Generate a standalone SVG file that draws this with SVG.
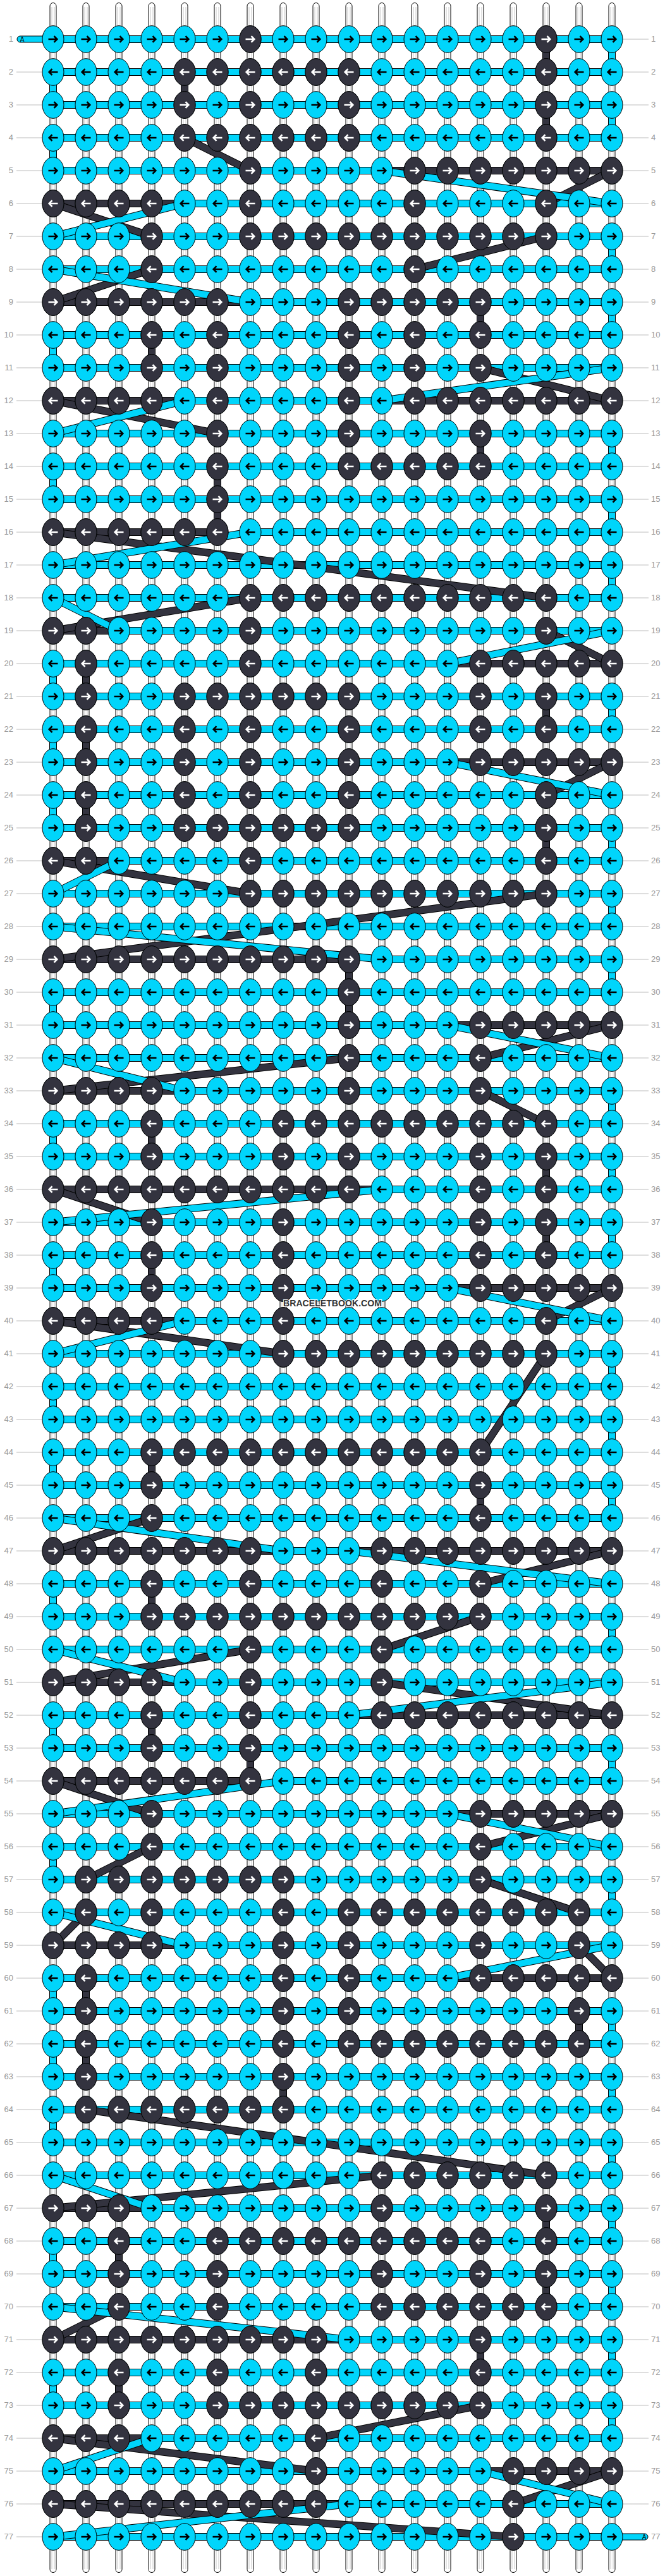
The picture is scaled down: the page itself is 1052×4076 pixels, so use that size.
<svg xmlns="http://www.w3.org/2000/svg" width="1052" height="4076" viewBox="0 0 1052 4076">
<style>
.bg{fill:#fff}
.lbl text{font-family:"Liberation Sans",Arial,sans-serif;font-size:13px;fill:#999}
.st{fill:#fff;stroke:#000;stroke-width:1}
.ol{fill:none;stroke:#000;stroke-width:12;stroke-linecap:butt}
.cl{fill:none;stroke:#00d5fb;stroke-width:10;stroke-linecap:butt}
.dl{fill:none;stroke:#33333f;stroke-width:10;stroke-linecap:butt}
.kc{fill:url(#pc);height:52px;width:936px}
.kd{fill:url(#pd);height:52px}
.s{width:52px}
.pill{fill:#00d5fb;stroke:#000;stroke-width:1}
.pt{font-family:"Liberation Sans",Arial,sans-serif;font-size:10px;fill:#000;text-anchor:middle}
.wm{font-family:"Liberation Sans",Arial,sans-serif;font-size:15px;font-weight:bold;fill:#333;stroke:#fff;stroke-width:2;paint-order:stroke;text-anchor:middle}
</style>
<defs>
<pattern id="pc" patternUnits="userSpaceOnUse" x="58" y="36" width="52" height="104">
<ellipse cx="26" cy="26" rx="17" ry="21.3" fill="#00d5fb" stroke="#000"/>
<path d="M18.5 26H32M27.5 21.2L32.3 26L27.5 30.8" fill="none" stroke="#000" stroke-width="2.6"/>
<ellipse cx="26" cy="78" rx="17" ry="21.3" fill="#00d5fb" stroke="#000"/>
<path d="M33.5 78H20M24.5 73.2L19.7 78L24.5 82.8" fill="none" stroke="#000" stroke-width="2.6"/>
</pattern>
<pattern id="pd" patternUnits="userSpaceOnUse" x="58" y="36" width="52" height="104">
<ellipse cx="26" cy="26" rx="17" ry="21.3" fill="#33333f" stroke="#000"/>
<path d="M18.5 26H32M27.5 21.2L32.3 26L27.5 30.8" fill="none" stroke="#fff" stroke-width="2.6"/>
<ellipse cx="26" cy="78" rx="17" ry="21.3" fill="#33333f" stroke="#000"/>
<path d="M33.5 78H20M24.5 73.2L19.7 78L24.5 82.8" fill="none" stroke="#fff" stroke-width="2.6"/>
</pattern>
<pattern id="ps" patternUnits="userSpaceOnUse" x="58" y="0" width="52" height="10">
<rect x="23.5" width="1" height="10" fill="#c8c8c8"/><rect x="27.5" width="1" height="10" fill="#c8c8c8"/>
</pattern>
<pattern id="pl" patternUnits="userSpaceOnUse" x="0" y="36" width="52" height="52">
<rect y="25.5" width="52" height="1" fill="#bdbdbd"/>
</pattern>
<path id="hbc" d="M84 62H968M84 114H968M84 166H968M84 218H968M84 270H604M292 322H968M84 374H968M84 426H968M396 478H968M84 530H968M84 582H968M292 634H604M84 686H968M84 738H968M84 790H968M396 842H968M84 894H968M84 946H968M188 998H968M84 1050H708M84 1102H968M84 1154H968M84 1206H708M84 1258H968M84 1310H968M188 1362H968M84 1414H968M84 1466H968M604 1518H968M84 1570H968M84 1622H708M84 1674H968M292 1726H968M84 1778H968M84 1830H968M604 1882H968M84 1934H968M84 1986H968M84 2038H708M292 2090H968M84 2142H968M84 2194H968M84 2246H968M84 2298H968M84 2350H968M84 2402H968M448 2454H552M84 2506H968M84 2558H968M84 2610H968M292 2662H968M84 2714H552M84 2766H968M448 2818H968M84 2870H708M84 2922H968M84 2974H968M84 3026H968M292 3078H968M84 3130H708M84 3182H968M84 3234H968M84 3286H968M84 3338H968M84 3390H968M84 3442H968M240 3494H968M84 3546H968M84 3598H968M84 3650H968M552 3702H968M84 3754H968M84 3806H968M240 3858H968M84 3910H760M552 3962H968M84 4014H968"/>
<path id="hbd" d="M604 270H968M84 322H292M84 478H396M84 634H292M604 634H968M84 842H344M84 998H188M708 1050H968M708 1206H968M84 1362H188M84 1518H552M708 1622H968M84 1726H292M84 1882H604M708 2038H968M84 2090H292M84 2454H448M552 2454H968M84 2662H292M552 2714H968M84 2818H396M708 2870H968M84 3078H292M708 3130H968M84 3494H240M84 3702H552M84 3858H240M760 3910H968M84 3962H552"/>
<path id="cnc" d="M968 62V114M84 114V166M968 166V218M84 218V270M604 270L968 322M292 322L84 374M968 374V426M84 426L396 478M968 478V530M84 530V582M968 582L604 634M292 634L84 686M968 686V738M84 738V790M968 790V842M396 842L84 894M968 894V946M84 946L188 998M968 998L708 1050M84 1050V1102M968 1102V1154M84 1154V1206M708 1206L968 1258M84 1258V1310M968 1310V1362M188 1362L84 1414M968 1414V1466M84 1466L604 1518M968 1518V1570M84 1570V1622M708 1622L968 1674M84 1674L292 1726M968 1726V1778M84 1778V1830M968 1830V1882M604 1882L84 1934M968 1934V1986M84 1986V2038M708 2038L968 2090M292 2090L84 2142M968 2142V2194M84 2194V2246M968 2246V2298M84 2298V2350M968 2350V2402M84 2402L448 2454M552 2454L968 2506M84 2506V2558M968 2558V2610M84 2610L292 2662M968 2662L552 2714M84 2714V2766M968 2766V2818M448 2818L84 2870M708 2870L968 2922M84 2922V2974M968 2974V3026M84 3026L292 3078M968 3078L708 3130M84 3130V3182M968 3182V3234M84 3234V3286M968 3286V3338M84 3338V3390M968 3390V3442M84 3442L240 3494M968 3494V3546M84 3546V3598M968 3598V3650M84 3650L552 3702M968 3702V3754M84 3754V3806M968 3806V3858M240 3858L84 3910M760 3910L968 3962M552 3962L84 4014"/>
<path id="cnd" d="M864 62V114M292 114V166M864 166V218M292 218L396 270M968 270L864 322M84 322L240 374M864 374L656 426M240 426L84 478M760 478V530M240 530V582M760 582L968 634M84 634L344 686M760 686V738M344 738V842M84 842L864 946M396 946L84 998M864 998L968 1050M136 1050V1102M864 1102V1154M136 1154V1206M968 1206L864 1258M136 1258V1310M864 1310V1362M84 1362L396 1414M864 1414L84 1518M552 1518V1622M968 1622L760 1674M552 1674L84 1726M760 1726L864 1778M240 1778V1830M864 1830V1882M84 1882L240 1934M864 1934V1986M240 1986V2038M968 2038L864 2090M84 2090L448 2142M864 2142L760 2298M240 2298V2350M760 2350V2402M240 2402L84 2454M968 2454L760 2506M240 2506V2558M760 2558L604 2610M396 2610L84 2662M604 2662L968 2714M240 2714V2766M396 2766V2818M84 2818L240 2870M968 2870L760 2922M240 2922L136 2974M760 2974L916 3026M136 3026L84 3078M916 3078L968 3130M136 3130V3182M916 3182V3234M136 3234V3286M448 3286V3338M136 3338L864 3442M604 3442L84 3494M864 3494V3546M188 3546V3598M864 3598V3650M188 3650L84 3702M760 3702V3754M188 3754V3806M760 3806L500 3858M84 3858L500 3910M968 3910L812 3962M84 3962L812 4014"/>
</defs>
<rect class="bg" x="0" y="0" width="1052" height="4076"/>
<g id="row-guides">
<rect x="26" y="88" width="41" height="3952" fill="url(#pl)"/>
<rect x="985" y="36" width="41" height="3952" fill="url(#pl)"/>
</g>
<g id="labels-left" class="lbl" transform="translate(21,0)" text-anchor="end">
<text y="66">1</text><text y="118">2</text><text y="170">3</text><text y="222">4</text><text y="274">5</text><text y="326">6</text><text y="378">7</text><text y="430">8</text><text y="482">9</text><text y="534">10</text><text y="586">11</text><text y="638">12</text><text y="690">13</text><text y="742">14</text><text y="794">15</text><text y="846">16</text><text y="898">17</text><text y="950">18</text><text y="1002">19</text><text y="1054">20</text><text y="1106">21</text><text y="1158">22</text><text y="1210">23</text><text y="1262">24</text><text y="1314">25</text><text y="1366">26</text><text y="1418">27</text><text y="1470">28</text><text y="1522">29</text><text y="1574">30</text><text y="1626">31</text><text y="1678">32</text><text y="1730">33</text><text y="1782">34</text><text y="1834">35</text><text y="1886">36</text><text y="1938">37</text><text y="1990">38</text><text y="2042">39</text><text y="2094">40</text><text y="2146">41</text><text y="2198">42</text><text y="2250">43</text><text y="2302">44</text><text y="2354">45</text><text y="2406">46</text><text y="2458">47</text><text y="2510">48</text><text y="2562">49</text><text y="2614">50</text><text y="2666">51</text><text y="2718">52</text><text y="2770">53</text><text y="2822">54</text><text y="2874">55</text><text y="2926">56</text><text y="2978">57</text><text y="3030">58</text><text y="3082">59</text><text y="3134">60</text><text y="3186">61</text><text y="3238">62</text><text y="3290">63</text><text y="3342">64</text><text y="3394">65</text><text y="3446">66</text><text y="3498">67</text><text y="3550">68</text><text y="3602">69</text><text y="3654">70</text><text y="3706">71</text><text y="3758">72</text><text y="3810">73</text><text y="3862">74</text><text y="3914">75</text><text y="3966">76</text><text y="4018">77</text>
</g>
<g id="labels-right" class="lbl" transform="translate(1030,0)" text-anchor="start">
<text y="66">1</text><text y="118">2</text><text y="170">3</text><text y="222">4</text><text y="274">5</text><text y="326">6</text><text y="378">7</text><text y="430">8</text><text y="482">9</text><text y="534">10</text><text y="586">11</text><text y="638">12</text><text y="690">13</text><text y="742">14</text><text y="794">15</text><text y="846">16</text><text y="898">17</text><text y="950">18</text><text y="1002">19</text><text y="1054">20</text><text y="1106">21</text><text y="1158">22</text><text y="1210">23</text><text y="1262">24</text><text y="1314">25</text><text y="1366">26</text><text y="1418">27</text><text y="1470">28</text><text y="1522">29</text><text y="1574">30</text><text y="1626">31</text><text y="1678">32</text><text y="1730">33</text><text y="1782">34</text><text y="1834">35</text><text y="1886">36</text><text y="1938">37</text><text y="1990">38</text><text y="2042">39</text><text y="2094">40</text><text y="2146">41</text><text y="2198">42</text><text y="2250">43</text><text y="2302">44</text><text y="2354">45</text><text y="2406">46</text><text y="2458">47</text><text y="2510">48</text><text y="2562">49</text><text y="2614">50</text><text y="2666">51</text><text y="2718">52</text><text y="2770">53</text><text y="2822">54</text><text y="2874">55</text><text y="2926">56</text><text y="2978">57</text><text y="3030">58</text><text y="3082">59</text><text y="3134">60</text><text y="3186">61</text><text y="3238">62</text><text y="3290">63</text><text y="3342">64</text><text y="3394">65</text><text y="3446">66</text><text y="3498">67</text><text y="3550">68</text><text y="3602">69</text><text y="3654">70</text><text y="3706">71</text><text y="3758">72</text><text y="3810">73</text><text y="3862">74</text><text y="3914">75</text><text y="3966">76</text><text y="4018">77</text>
</g>
<g id="strands">
<rect class="st" x="79" y="4.5" width="10" height="4066" rx="5"/><rect class="st" x="131" y="4.5" width="10" height="4066" rx="5"/><rect class="st" x="183" y="4.5" width="10" height="4066" rx="5"/><rect class="st" x="235" y="4.5" width="10" height="4066" rx="5"/><rect class="st" x="287" y="4.5" width="10" height="4066" rx="5"/><rect class="st" x="339" y="4.5" width="10" height="4066" rx="5"/><rect class="st" x="391" y="4.5" width="10" height="4066" rx="5"/><rect class="st" x="443" y="4.5" width="10" height="4066" rx="5"/><rect class="st" x="495" y="4.5" width="10" height="4066" rx="5"/><rect class="st" x="547" y="4.5" width="10" height="4066" rx="5"/><rect class="st" x="599" y="4.5" width="10" height="4066" rx="5"/><rect class="st" x="651" y="4.5" width="10" height="4066" rx="5"/><rect class="st" x="703" y="4.5" width="10" height="4066" rx="5"/><rect class="st" x="755" y="4.5" width="10" height="4066" rx="5"/><rect class="st" x="807" y="4.5" width="10" height="4066" rx="5"/><rect class="st" x="859" y="4.5" width="10" height="4066" rx="5"/><rect class="st" x="911" y="4.5" width="10" height="4066" rx="5"/><rect class="st" x="963" y="4.5" width="10" height="4066" rx="5"/>
<rect x="58" y="11" width="936" height="4054" fill="url(#ps)"/>
</g>
<g id="connectors">
<use href="#hbd" class="ol"/><use href="#hbd" class="dl"/>
<use href="#hbc" class="ol"/><use href="#hbc" class="cl"/>
<use href="#cnd" class="ol"/><use href="#cnd" class="dl"/>
<use href="#cnc" class="ol"/><use href="#cnc" class="cl"/>
</g>
<g id="thread-ends">
<rect class="pill" x="27" y="57" width="60" height="10" rx="5"/>
<rect class="pill" x="965" y="4009" width="60" height="10" rx="5"/>
</g>
<g id="knots">
<g id="row-1"><rect class="kc" x="58" y="36"/><rect class="kd s" x="370" y="36"/><rect class="kd s" x="838" y="36"/></g>
<g id="row-2"><rect class="kc" x="58" y="88"/><rect class="kd" x="266" y="88" width="312"/><rect class="kd s" x="838" y="88"/></g>
<g id="row-3"><rect class="kc" x="58" y="140"/><rect class="kd s" x="266" y="140"/><rect class="kd s" x="370" y="140"/><rect class="kd s" x="526" y="140"/><rect class="kd s" x="838" y="140"/></g>
<g id="row-4"><rect class="kc" x="58" y="192"/><rect class="kd" x="266" y="192" width="312"/><rect class="kd s" x="838" y="192"/></g>
<g id="row-5"><rect class="kc" x="58" y="244"/><rect class="kd s" x="370" y="244"/><rect class="kd" x="630" y="244" width="364"/></g>
<g id="row-6"><rect class="kc" x="58" y="296"/><rect class="kd" x="58" y="296" width="208"/><rect class="kd s" x="370" y="296"/><rect class="kd s" x="630" y="296"/><rect class="kd s" x="838" y="296"/></g>
<g id="row-7"><rect class="kc" x="58" y="348"/><rect class="kd s" x="214" y="348"/><rect class="kd" x="370" y="348" width="520"/></g>
<g id="row-8"><rect class="kc" x="58" y="400"/><rect class="kd s" x="214" y="400"/><rect class="kd s" x="630" y="400"/></g>
<g id="row-9"><rect class="kc" x="58" y="452"/><rect class="kd" x="58" y="452" width="312"/><rect class="kd" x="526" y="452" width="260"/></g>
<g id="row-10"><rect class="kc" x="58" y="504"/><rect class="kd s" x="214" y="504"/><rect class="kd s" x="318" y="504"/><rect class="kd s" x="526" y="504"/><rect class="kd s" x="630" y="504"/><rect class="kd s" x="734" y="504"/></g>
<g id="row-11"><rect class="kc" x="58" y="556"/><rect class="kd s" x="214" y="556"/><rect class="kd s" x="318" y="556"/><rect class="kd s" x="526" y="556"/><rect class="kd s" x="630" y="556"/><rect class="kd s" x="734" y="556"/></g>
<g id="row-12"><rect class="kc" x="58" y="608"/><rect class="kd" x="58" y="608" width="208"/><rect class="kd s" x="318" y="608"/><rect class="kd s" x="526" y="608"/><rect class="kd" x="630" y="608" width="364"/></g>
<g id="row-13"><rect class="kc" x="58" y="660"/><rect class="kd s" x="318" y="660"/><rect class="kd s" x="526" y="660"/><rect class="kd s" x="734" y="660"/></g>
<g id="row-14"><rect class="kc" x="58" y="712"/><rect class="kd s" x="318" y="712"/><rect class="kd" x="526" y="712" width="260"/></g>
<g id="row-15"><rect class="kc" x="58" y="764"/><rect class="kd s" x="318" y="764"/></g>
<g id="row-16"><rect class="kc" x="58" y="816"/><rect class="kd" x="58" y="816" width="312"/></g>
<g id="row-17"><rect class="kc" x="58" y="868"/></g>
<g id="row-18"><rect class="kc" x="58" y="920"/><rect class="kd" x="370" y="920" width="520"/></g>
<g id="row-19"><rect class="kc" x="58" y="972"/><rect class="kd" x="58" y="972" width="104"/><rect class="kd s" x="370" y="972"/><rect class="kd s" x="838" y="972"/></g>
<g id="row-20"><rect class="kc" x="58" y="1024"/><rect class="kd s" x="110" y="1024"/><rect class="kd s" x="370" y="1024"/><rect class="kd" x="734" y="1024" width="260"/></g>
<g id="row-21"><rect class="kc" x="58" y="1076"/><rect class="kd s" x="110" y="1076"/><rect class="kd" x="266" y="1076" width="312"/><rect class="kd s" x="734" y="1076"/><rect class="kd s" x="838" y="1076"/></g>
<g id="row-22"><rect class="kc" x="58" y="1128"/><rect class="kd s" x="110" y="1128"/><rect class="kd s" x="266" y="1128"/><rect class="kd s" x="370" y="1128"/><rect class="kd s" x="526" y="1128"/><rect class="kd s" x="734" y="1128"/><rect class="kd s" x="838" y="1128"/></g>
<g id="row-23"><rect class="kc" x="58" y="1180"/><rect class="kd s" x="110" y="1180"/><rect class="kd s" x="266" y="1180"/><rect class="kd s" x="370" y="1180"/><rect class="kd s" x="526" y="1180"/><rect class="kd" x="734" y="1180" width="260"/></g>
<g id="row-24"><rect class="kc" x="58" y="1232"/><rect class="kd s" x="110" y="1232"/><rect class="kd s" x="266" y="1232"/><rect class="kd s" x="370" y="1232"/><rect class="kd s" x="526" y="1232"/><rect class="kd s" x="838" y="1232"/></g>
<g id="row-25"><rect class="kc" x="58" y="1284"/><rect class="kd s" x="110" y="1284"/><rect class="kd" x="266" y="1284" width="312"/><rect class="kd s" x="838" y="1284"/></g>
<g id="row-26"><rect class="kc" x="58" y="1336"/><rect class="kd" x="58" y="1336" width="104"/><rect class="kd s" x="370" y="1336"/><rect class="kd s" x="838" y="1336"/></g>
<g id="row-27"><rect class="kc" x="58" y="1388"/><rect class="kd" x="370" y="1388" width="520"/></g>
<g id="row-28"><rect class="kc" x="58" y="1440"/></g>
<g id="row-29"><rect class="kc" x="58" y="1492"/><rect class="kd" x="58" y="1492" width="520"/></g>
<g id="row-30"><rect class="kc" x="58" y="1544"/><rect class="kd s" x="526" y="1544"/></g>
<g id="row-31"><rect class="kc" x="58" y="1596"/><rect class="kd s" x="526" y="1596"/><rect class="kd" x="734" y="1596" width="260"/></g>
<g id="row-32"><rect class="kc" x="58" y="1648"/><rect class="kd s" x="526" y="1648"/><rect class="kd s" x="734" y="1648"/></g>
<g id="row-33"><rect class="kc" x="58" y="1700"/><rect class="kd" x="58" y="1700" width="208"/><rect class="kd s" x="526" y="1700"/><rect class="kd s" x="734" y="1700"/></g>
<g id="row-34"><rect class="kc" x="58" y="1752"/><rect class="kd s" x="214" y="1752"/><rect class="kd" x="422" y="1752" width="468"/></g>
<g id="row-35"><rect class="kc" x="58" y="1804"/><rect class="kd s" x="214" y="1804"/><rect class="kd s" x="422" y="1804"/><rect class="kd s" x="526" y="1804"/><rect class="kd s" x="734" y="1804"/><rect class="kd s" x="838" y="1804"/></g>
<g id="row-36"><rect class="kc" x="58" y="1856"/><rect class="kd" x="58" y="1856" width="520"/><rect class="kd s" x="734" y="1856"/><rect class="kd s" x="838" y="1856"/></g>
<g id="row-37"><rect class="kc" x="58" y="1908"/><rect class="kd s" x="214" y="1908"/><rect class="kd s" x="422" y="1908"/><rect class="kd s" x="734" y="1908"/><rect class="kd s" x="838" y="1908"/></g>
<g id="row-38"><rect class="kc" x="58" y="1960"/><rect class="kd s" x="214" y="1960"/><rect class="kd s" x="422" y="1960"/><rect class="kd s" x="734" y="1960"/><rect class="kd s" x="838" y="1960"/></g>
<g id="row-39"><rect class="kc" x="58" y="2012"/><rect class="kd s" x="214" y="2012"/><rect class="kd s" x="422" y="2012"/><rect class="kd" x="734" y="2012" width="260"/></g>
<g id="row-40"><rect class="kc" x="58" y="2064"/><rect class="kd" x="58" y="2064" width="208"/><rect class="kd s" x="422" y="2064"/><rect class="kd s" x="838" y="2064"/></g>
<g id="row-41"><rect class="kc" x="58" y="2116"/><rect class="kd" x="422" y="2116" width="468"/></g>
<g id="row-42"><rect class="kc" x="58" y="2168"/></g>
<g id="row-43"><rect class="kc" x="58" y="2220"/></g>
<g id="row-44"><rect class="kc" x="58" y="2272"/><rect class="kd" x="214" y="2272" width="572"/></g>
<g id="row-45"><rect class="kc" x="58" y="2324"/><rect class="kd s" x="214" y="2324"/><rect class="kd s" x="734" y="2324"/></g>
<g id="row-46"><rect class="kc" x="58" y="2376"/><rect class="kd s" x="214" y="2376"/><rect class="kd s" x="734" y="2376"/></g>
<g id="row-47"><rect class="kc" x="58" y="2428"/><rect class="kd" x="58" y="2428" width="364"/><rect class="kd" x="578" y="2428" width="416"/></g>
<g id="row-48"><rect class="kc" x="58" y="2480"/><rect class="kd s" x="214" y="2480"/><rect class="kd s" x="370" y="2480"/><rect class="kd s" x="578" y="2480"/><rect class="kd s" x="734" y="2480"/></g>
<g id="row-49"><rect class="kc" x="58" y="2532"/><rect class="kd" x="214" y="2532" width="572"/></g>
<g id="row-50"><rect class="kc" x="58" y="2584"/><rect class="kd s" x="370" y="2584"/><rect class="kd s" x="578" y="2584"/></g>
<g id="row-51"><rect class="kc" x="58" y="2636"/><rect class="kd" x="58" y="2636" width="208"/><rect class="kd s" x="370" y="2636"/><rect class="kd s" x="578" y="2636"/></g>
<g id="row-52"><rect class="kc" x="58" y="2688"/><rect class="kd s" x="214" y="2688"/><rect class="kd s" x="370" y="2688"/><rect class="kd" x="578" y="2688" width="416"/></g>
<g id="row-53"><rect class="kc" x="58" y="2740"/><rect class="kd s" x="214" y="2740"/><rect class="kd s" x="370" y="2740"/></g>
<g id="row-54"><rect class="kc" x="58" y="2792"/><rect class="kd" x="58" y="2792" width="364"/></g>
<g id="row-55"><rect class="kc" x="58" y="2844"/><rect class="kd s" x="214" y="2844"/><rect class="kd" x="734" y="2844" width="260"/></g>
<g id="row-56"><rect class="kc" x="58" y="2896"/><rect class="kd s" x="214" y="2896"/><rect class="kd s" x="734" y="2896"/></g>
<g id="row-57"><rect class="kc" x="58" y="2948"/><rect class="kd" x="110" y="2948" width="364"/><rect class="kd s" x="734" y="2948"/></g>
<g id="row-58"><rect class="kc" x="58" y="3000"/><rect class="kd s" x="110" y="3000"/><rect class="kd s" x="214" y="3000"/><rect class="kd s" x="422" y="3000"/><rect class="kd" x="526" y="3000" width="416"/></g>
<g id="row-59"><rect class="kc" x="58" y="3052"/><rect class="kd" x="58" y="3052" width="208"/><rect class="kd s" x="422" y="3052"/><rect class="kd s" x="526" y="3052"/><rect class="kd s" x="734" y="3052"/><rect class="kd s" x="890" y="3052"/></g>
<g id="row-60"><rect class="kc" x="58" y="3104"/><rect class="kd s" x="110" y="3104"/><rect class="kd s" x="422" y="3104"/><rect class="kd s" x="526" y="3104"/><rect class="kd" x="734" y="3104" width="260"/></g>
<g id="row-61"><rect class="kc" x="58" y="3156"/><rect class="kd s" x="110" y="3156"/><rect class="kd s" x="422" y="3156"/><rect class="kd s" x="526" y="3156"/><rect class="kd s" x="890" y="3156"/></g>
<g id="row-62"><rect class="kc" x="58" y="3208"/><rect class="kd s" x="110" y="3208"/><rect class="kd s" x="422" y="3208"/><rect class="kd" x="526" y="3208" width="416"/></g>
<g id="row-63"><rect class="kc" x="58" y="3260"/><rect class="kd s" x="110" y="3260"/><rect class="kd s" x="422" y="3260"/></g>
<g id="row-64"><rect class="kc" x="58" y="3312"/><rect class="kd" x="110" y="3312" width="364"/></g>
<g id="row-65"><rect class="kc" x="58" y="3364"/></g>
<g id="row-66"><rect class="kc" x="58" y="3416"/><rect class="kd" x="578" y="3416" width="312"/></g>
<g id="row-67"><rect class="kc" x="58" y="3468"/><rect class="kd" x="58" y="3468" width="156"/><rect class="kd s" x="578" y="3468"/><rect class="kd s" x="838" y="3468"/></g>
<g id="row-68"><rect class="kc" x="58" y="3520"/><rect class="kd s" x="162" y="3520"/><rect class="kd" x="318" y="3520" width="468"/><rect class="kd s" x="838" y="3520"/></g>
<g id="row-69"><rect class="kc" x="58" y="3572"/><rect class="kd s" x="162" y="3572"/><rect class="kd s" x="318" y="3572"/><rect class="kd s" x="578" y="3572"/><rect class="kd s" x="734" y="3572"/><rect class="kd s" x="838" y="3572"/></g>
<g id="row-70"><rect class="kc" x="58" y="3624"/><rect class="kd s" x="162" y="3624"/><rect class="kd s" x="318" y="3624"/><rect class="kd" x="578" y="3624" width="312"/></g>
<g id="row-71"><rect class="kc" x="58" y="3676"/><rect class="kd" x="58" y="3676" width="468"/><rect class="kd s" x="734" y="3676"/></g>
<g id="row-72"><rect class="kc" x="58" y="3728"/><rect class="kd s" x="162" y="3728"/><rect class="kd s" x="318" y="3728"/><rect class="kd s" x="474" y="3728"/><rect class="kd s" x="734" y="3728"/></g>
<g id="row-73"><rect class="kc" x="58" y="3780"/><rect class="kd s" x="162" y="3780"/><rect class="kd" x="318" y="3780" width="468"/></g>
<g id="row-74"><rect class="kc" x="58" y="3832"/><rect class="kd" x="58" y="3832" width="156"/><rect class="kd s" x="474" y="3832"/></g>
<g id="row-75"><rect class="kc" x="58" y="3884"/><rect class="kd s" x="474" y="3884"/><rect class="kd" x="786" y="3884" width="208"/></g>
<g id="row-76"><rect class="kc" x="58" y="3936"/><rect class="kd" x="58" y="3936" width="468"/><rect class="kd s" x="786" y="3936"/></g>
<g id="row-77"><rect class="kc" x="58" y="3988"/><rect class="kd s" x="786" y="3988"/></g>
</g>
<g id="thread-labels">
<text class="pt" x="35" y="65.5">A</text>
<text class="pt" x="1019" y="4017.5">A</text>
</g>
<text class="wm" x="526" y="2067" textLength="156" lengthAdjust="spacingAndGlyphs">BRACELETBOOK.COM</text>
</svg>
